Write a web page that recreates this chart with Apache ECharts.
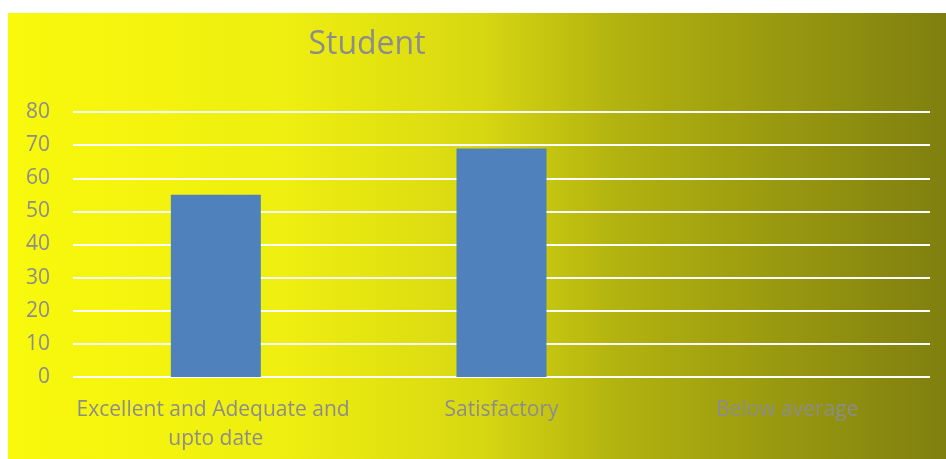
<!DOCTYPE html>
<html><head><meta charset="utf-8">
<script src="https://cdn.jsdelivr.net/npm/echarts@6/dist/echarts.min.js"></script>
<style>
html,body{margin:0;padding:0;background:#fff;}
#c{position:absolute;left:8px;top:13px;width:938px;height:446px;}
</style></head><body>
<div id="c"></div>
<script>
const categories = ["Excellent and Adequate and upto date", "Satisfactory", "Below average"];
const studentValues = [55, 69, 0];
const yTicks = [0, 10, 20, 30, 40, 50, 60, 70, 80];
const titleText = "Student";

const chart = echarts.init(document.getElementById('c'));
const FONT = 'Open Sans';
chart.setOption({
  backgroundColor: new echarts.graphic.LinearGradient(0, 0, 1, 0, [
    {offset: 0, color: '#f9f90c'},
    {offset: 0.3, color: '#eeee10'},
    {offset: 0.5, color: '#d8d812'},
    {offset: 0.65, color: '#b2b210'},
    {offset: 1, color: '#7f7f10'}
  ]),
  title: {
    text: titleText, left: 354, top: 11, textAlign: 'center',
    textStyle: {fontFamily: FONT, fontSize: 32, fontWeight: 'normal', color: '#8c8c8c'}
  },
  grid: {left: 65, right: 16, top: 99, bottom: 82, containLabel: false},
  xAxis: {
    type: 'category', data: categories,
    axisLine: {show: false}, axisTick: {show: false},
    axisLabel: {
      interval: 0, margin: 19, color: '#8c8c8c', fontFamily: FONT, fontSize: 21,
      lineHeight: 29, width: 285, overflow: 'break'
    }
  },
  yAxis: {
    type: 'value', min: yTicks[0], max: yTicks[yTicks.length - 1], interval: 10,
    axisLine: {show: false}, axisTick: {show: false},
    splitLine: {lineStyle: {color: '#ffffff', width: 2}},
    axisLabel: {margin: 23, color: '#8c8c8c', fontFamily: FONT, fontSize: 21}
  },
  series: [{
    name: titleText, type: 'bar', data: studentValues, barWidth: 90,
    itemStyle: {color: '#4f81bd'}
  }]
});
</script></body></html>
